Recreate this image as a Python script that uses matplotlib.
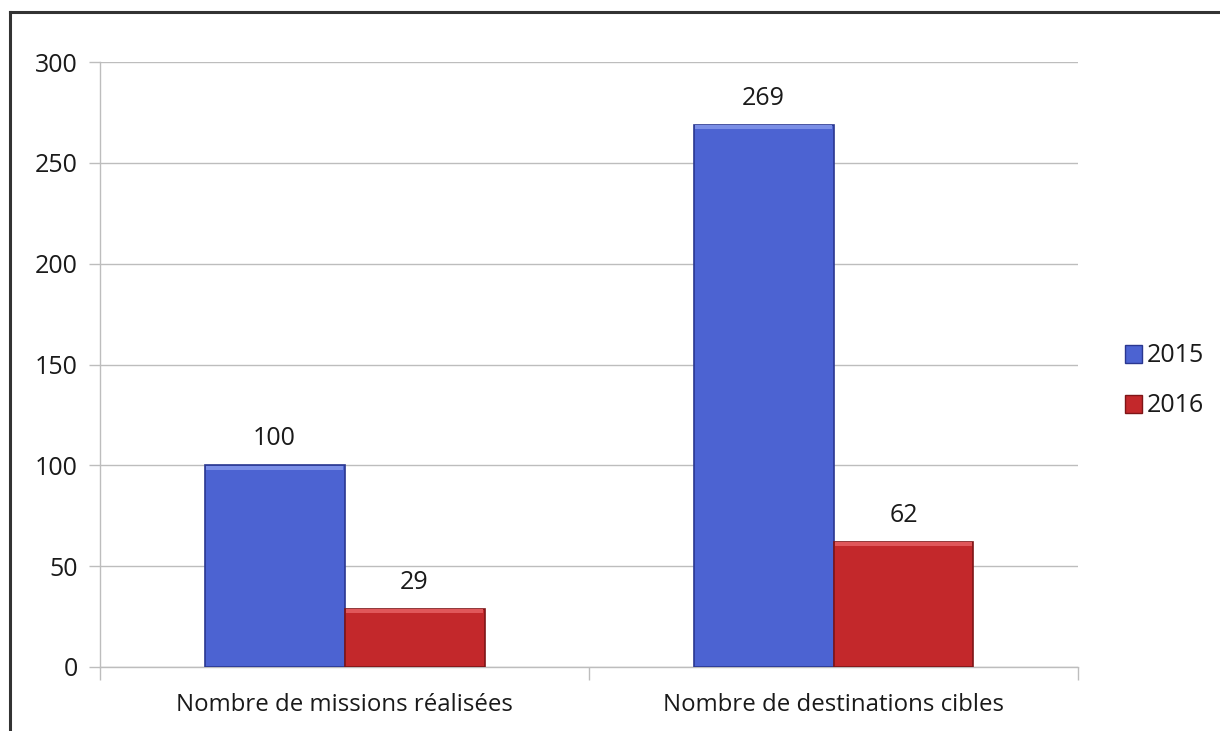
import matplotlib.pyplot as plt
import matplotlib.patches as mpatches
from matplotlib.lines import Line2D
import numpy as np

plt.rcParams['font.family'] = ['Open Sans', 'DejaVu Sans']

# Données
categories = ['Nombre de missions réalisées', 'Nombre de destinations cibles']
series_names = ['2015', '2016']
values_2015 = [100, 269]
values_2016 = [29, 62]
y_ticks = [0, 50, 100, 150, 200, 250, 300]

blue_face = '#4c63d2'
blue_edge = '#2a3790'
red_face = '#c3282b'
red_edge = '#7e1517'
grid_col = '#bdbdbd'
text_col = '#1a1a1a'

fig = plt.figure(figsize=(12.2, 7.31), dpi=100)
ax = fig.add_axes([100 / 1220, 1 - 667 / 731, 978 / 1220, 605 / 731])

x = np.arange(len(categories))
w = 140 / 489

b1 = ax.bar(x - w / 2, values_2015, w, color=blue_face, edgecolor=blue_edge,
            linewidth=1.2, zorder=3, label=series_names[0])
b2 = ax.bar(x + w / 2, values_2016, w, color=red_face, edgecolor=red_edge,
            linewidth=1.2, zorder=3, label=series_names[1])

# petit effet de relief sur le haut des barres
for bars, hl in ((b1, '#7a8ee6'), (b2, '#e0575a')):
    for r in bars:
        ax.add_patch(mpatches.Rectangle((r.get_x() + 0.004, r.get_height() - 2.2),
                                        r.get_width() - 0.008, 2.0, color=hl,
                                        zorder=4, linewidth=0))

for bars, vals in ((b1, values_2015), (b2, values_2016)):
    for r, v in zip(bars, vals):
        ax.annotate(str(v), (r.get_x() + r.get_width() / 2, v),
                    xytext=(0, 10), textcoords='offset points',
                    ha='center', va='bottom', fontsize=18, color=text_col)

ax.set_xlim(-0.5, 1.5)
ax.set_ylim(0, 300)
ax.set_yticks(y_ticks)
ax.set_yticklabels([str(t) for t in y_ticks], fontsize=18, color=text_col)
ax.yaxis.grid(True, color=grid_col, linewidth=1, zorder=0)
ax.set_axisbelow(True)

ax.set_xticks([-0.5, 0.5, 1.5])
ax.set_xticklabels([])
ax.set_xticks(x, minor=True)
ax.set_xticklabels(categories, minor=True, fontsize=17.3, color=text_col)
ax.tick_params(axis='x', which='major', length=9, color=grid_col, width=1)
ax.tick_params(axis='x', which='minor', length=0, pad=19)
ax.tick_params(axis='y', length=8, color=grid_col, width=1, pad=8)

for s in ('top', 'right'):
    ax.spines[s].set_visible(False)
for s in ('left', 'bottom'):
    ax.spines[s].set_color(grid_col)
    ax.spines[s].set_linewidth(1)

handles = [mpatches.Patch(facecolor=blue_face, edgecolor=blue_edge, label=series_names[0]),
           mpatches.Patch(facecolor=red_face, edgecolor=red_edge, label=series_names[1])]
fig.legend(handles=handles, loc='center left', bbox_to_anchor=(1112 / 1220, 1 - 381 / 731),
           frameon=False, fontsize=18, handlelength=0.7, handleheight=0.7,
           handletextpad=0.2, labelspacing=1.0, borderpad=0, labelcolor=text_col)

# cadre autour de la figure
fig.add_artist(Line2D([10 / 1220, 10 / 1220], [0, 1 - 12 / 731], color='#333333',
                      linewidth=2.2, transform=fig.transFigure))
fig.add_artist(Line2D([10 / 1220, 1], [1 - 12 / 731, 1 - 12 / 731], color='#333333',
                      linewidth=2.2, transform=fig.transFigure))

fig.savefig('out.png', dpi=100)
